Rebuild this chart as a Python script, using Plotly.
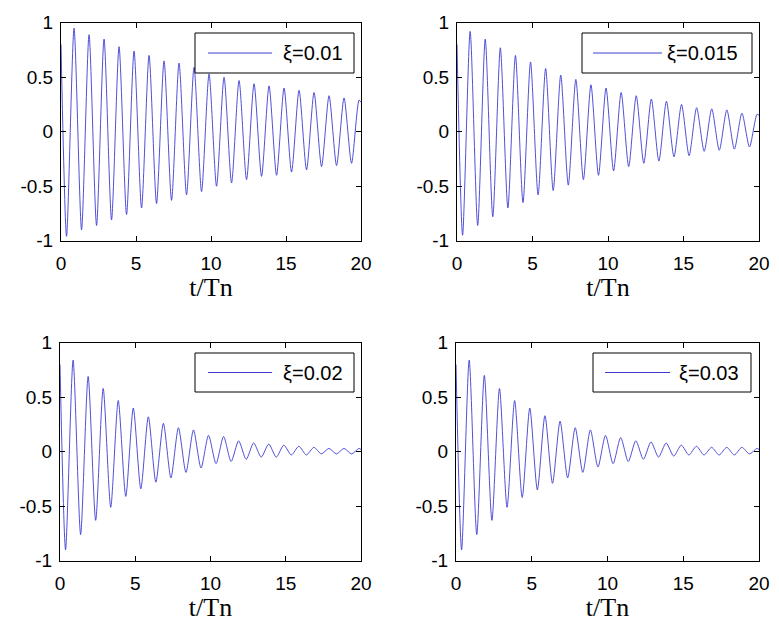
import plotly.graph_objects as go
from plotly.subplots import make_subplots

# page body has an 8px default margin; figure sized so page fits 779x629
OFF = 8
W, H = 779 - OFF, 629 - OFF

# ---- data ----
damping_labels = ["ξ=0.01", "ξ=0.015", "ξ=0.02", "ξ=0.03"]

trough_t = [0.37, 1.37, 2.37, 3.37, 4.37, 5.37, 6.37, 7.37, 8.37, 9.37,
            10.37, 11.37, 12.37, 13.37, 14.37, 15.37, 16.37, 17.37, 18.37, 19.37]
peak_t = [0.87, 1.87, 2.87, 3.87, 4.87, 5.87, 6.87, 7.87, 8.87, 9.87,
          10.87, 11.87, 12.87, 13.87, 14.87, 15.87, 16.87, 17.87, 18.87, 19.87]

start_val = [0.80, 0.80, 0.80, 0.80]
end_val = [0.27, 0.15, 0.02, 0.02]

peaks_001 = [0.95, 0.89, 0.85, 0.78, 0.74, 0.70, 0.65, 0.63, 0.59, 0.53,
             0.50, 0.47, 0.44, 0.42, 0.40, 0.38, 0.36, 0.33, 0.31, 0.29]
troughs_001 = [-0.96, -0.90, -0.86, -0.81, -0.76, -0.70, -0.66, -0.63, -0.58, -0.55,
               -0.50, -0.47, -0.44, -0.41, -0.40, -0.37, -0.35, -0.32, -0.31, -0.29]

peaks_0015 = [0.92, 0.85, 0.77, 0.70, 0.64, 0.58, 0.52, 0.48, 0.43, 0.40,
              0.36, 0.33, 0.30, 0.28, 0.25, 0.22, 0.21, 0.20, 0.17, 0.16]
troughs_0015 = [-0.95, -0.86, -0.78, -0.70, -0.65, -0.58, -0.54, -0.49, -0.44, -0.40,
                -0.36, -0.32, -0.29, -0.27, -0.23, -0.22, -0.18, -0.17, -0.16, -0.14]

peaks_002 = [0.84, 0.69, 0.58, 0.47, 0.40, 0.32, 0.26, 0.22, 0.20, 0.15,
             0.14, 0.10, 0.08, 0.07, 0.06, 0.05, 0.04, 0.03, 0.03, 0.03]
troughs_002 = [-0.90, -0.76, -0.63, -0.51, -0.41, -0.34, -0.28, -0.24, -0.19, -0.15,
               -0.11, -0.09, -0.07, -0.05, -0.05, -0.03, -0.03, -0.02, -0.02, -0.02]

peaks_003 = [0.84, 0.70, 0.58, 0.47, 0.40, 0.33, 0.28, 0.22, 0.20, 0.15,
             0.13, 0.10, 0.09, 0.08, 0.06, 0.05, 0.04, 0.04, 0.04, 0.03]
troughs_003 = [-0.90, -0.76, -0.63, -0.51, -0.42, -0.35, -0.29, -0.24, -0.19, -0.14,
               -0.11, -0.09, -0.07, -0.05, -0.04, -0.03, -0.03, -0.03, -0.03, -0.02]

x_ticks = [0, 5, 10, 15, 20]
y_ticks = [-1, -0.5, 0, 0.5, 1]
y_ticktext = ["-1", "-0.5", "0", "0.5", "1"]

peaks_all = [peaks_001, peaks_0015, peaks_002, peaks_003]
troughs_all = [troughs_001, troughs_0015, troughs_002, troughs_003]

LINE_COLOR = "rgb(60,60,212)"

# ---- layout geometry (screen pixels of the reference) ----
panels = [  # x0, x1, ytop, ybot
    (61, 361, 22.7, 240.7),
    (457, 759, 22.7, 240.7),
    (60, 361, 342.7, 560.7),
    (456, 759, 342.7, 560.7),
]
legend_boxes = [  # box x0,x1,y0,y1 ; line x0,x1 ; text x
    (195, 354, 33, 73, 208, 272, 281),
    (582, 752, 33, 73, 593, 662, 665),
    (195, 354, 353, 392, 208, 272, 281),
    (593, 751, 353, 392, 605, 670, 677),
]


def px(x):
    return (x - OFF) / W


def py(y):
    return 1 - (y - OFF) / H


fig = make_subplots(rows=2, cols=2)

for i in range(4):
    r, c = i // 2 + 1, i % 2 + 1
    ts = [0.0]
    vs = [start_val[i]]
    for k in range(len(peak_t)):
        ts += [trough_t[k], peak_t[k]]
        vs += [troughs_all[i][k], peaks_all[i][k]]
    ts.append(20.0)
    vs.append(end_val[i])
    fig.add_trace(go.Scatter(x=ts, y=vs, mode="lines",
                             line=dict(color=LINE_COLOR, width=0.9, shape="spline", smoothing=0.7),
                             name=damping_labels[i], showlegend=False), row=r, col=c)

tick_font = dict(family="Liberation Sans, Arial, sans-serif", size=19, color="black")
axis_common = dict(showline=True, linecolor="black", linewidth=1, mirror="ticks",
                   ticks="inside", ticklen=5, tickcolor="black", showgrid=False,
                   zeroline=False, tickfont=tick_font, automargin=False)

for i in range(4):
    x0, x1, yt, yb = panels[i]
    xa = "xaxis" if i == 0 else f"xaxis{i+1}"
    ya = "yaxis" if i == 0 else f"yaxis{i+1}"
    fig.layout[xa].update(domain=[px(x0), px(x1)], range=[0, 20], tickvals=x_ticks,
                          title=dict(text="t/Tn", font=dict(family="Liberation Serif, Times New Roman, serif",
                                                              size=26, color="black"), standoff=4),
                          ticklabelstandoff=5, **axis_common)
    fig.layout[ya].update(domain=[py(yb), py(yt)], range=[-1, 1], tickvals=y_ticks,
                          ticktext=y_ticktext, ticklabelstandoff=3, **axis_common)

shapes = []
annotations = []
for i in range(4):
    bx0, bx1, by0, by1, lx0, lx1, tx = legend_boxes[i]
    shapes.append(dict(type="rect", xref="paper", yref="paper",
                       x0=px(bx0), x1=px(bx1), y0=py(by1), y1=py(by0),
                       line=dict(color="black", width=1), fillcolor="white", layer="above"))
    ym = (by0 + by1) / 2
    shapes.append(dict(type="line", xref="paper", yref="paper",
                       x0=px(lx0), x1=px(lx1), y0=py(ym), y1=py(ym),
                       line=dict(color=LINE_COLOR, width=1), layer="above"))
    annotations.append(dict(text=damping_labels[i], xref="paper", yref="paper",
                            x=px(tx), y=py(ym), xanchor="left", yanchor="middle",
                            showarrow=False,
                            font=dict(family="Liberation Sans, Arial, sans-serif", size=20, color="black")))

fig.update_layout(width=W, height=H, margin=dict(l=0, r=0, t=0, b=0),
                  paper_bgcolor="white", plot_bgcolor="white",
                  shapes=shapes, annotations=annotations, showlegend=False)

fig.write_html("out.html")
